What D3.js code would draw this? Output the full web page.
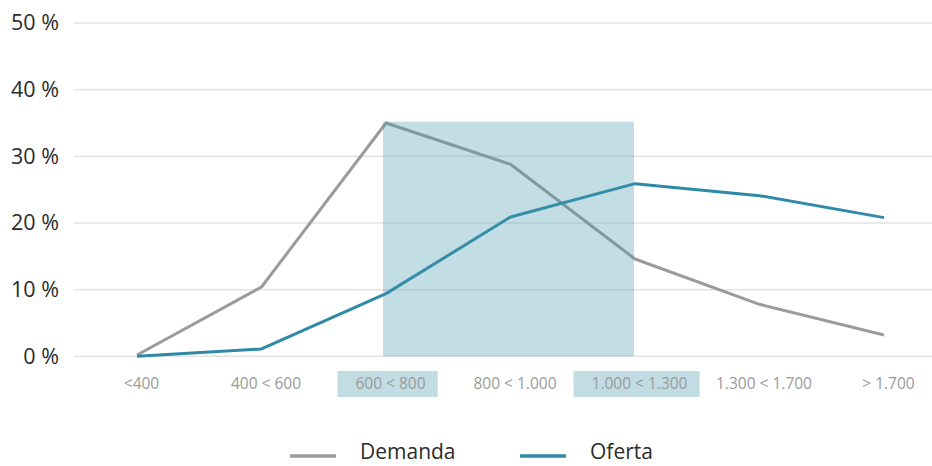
<!DOCTYPE html>
<html>
<head>
<meta charset="utf-8">
<script src="https://cdn.jsdelivr.net/npm/d3@7"></script>
<style>
  html, body { margin: 0; padding: 0; background: #fff; }
  svg { display: block; }
</style>
</head>
<body>
<svg id="chart" width="932" height="466"></svg>
<script>
const categories = ["<400", "400 < 600", "600 < 800", "800 < 1.000", "1.000 < 1.300", "1.300 < 1.700", "> 1.700"];
const demanda = [0.2, 10.4, 35.0, 28.8, 14.6, 7.8, 3.2];
const oferta = [0.0, 1.1, 9.4, 20.9, 25.9, 24.1, 20.8];
const yTicks = [0, 10, 20, 30, 40, 50];
const highlightFrom = "600 < 800";
const highlightTo = "1.000 < 1.300";
const highlightTop = 35.2;
const highlightedLabels = ["600 < 800", "1.000 < 1.300"];
const seriesNames = ["Demanda", "Oferta"];

const svg = d3.select("#chart");
const font = "'Open Sans', 'Noto Sans', sans-serif";

const x = d3.scalePoint().domain(categories).range([137, 884]);
const y = d3.scaleLinear().domain([0, 50]).range([356.3, 23]);

const gridLeft = 74, gridRight = 932;

// gridlines
svg.append("g").selectAll("line").data(yTicks).join("line")
  .attr("x1", gridLeft).attr("x2", gridRight)
  .attr("y1", d => y(d)).attr("y2", d => y(d))
  .attr("stroke", "#e3e3e3").attr("stroke-width", 1.5);

// y axis labels
const yAxis = d3.axisLeft(y).tickValues(yTicks).tickFormat(d => d + " %").tickSize(0).tickPadding(0);
const yg = svg.append("g").attr("transform", "translate(59,0)").call(yAxis);
yg.select(".domain").remove();
yg.selectAll("text").attr("font-family", font).attr("font-size", 21.5).attr("fill", "#2b2b2b");

// x axis label highlight boxes + labels
const xAxis = d3.axisBottom(x).tickSize(0).tickPadding(0);
const xg = svg.append("g").attr("transform", "translate(4,378)").call(xAxis);
xg.select(".domain").remove();
xg.selectAll("text").attr("font-family", font).attr("font-size", 15.5).attr("fill", "#9a9a9a").attr("dy", "0.71em");
xg.selectAll(".tick").each(function(d) {
  if (highlightedLabels.includes(d)) {
    const t = d3.select(this).select("text");
    const bb = t.node().getBBox();
    d3.select(this).insert("rect", "text")
      .attr("x", bb.x - 18).attr("y", -7)
      .attr("width", bb.width + 30).attr("height", 26)
      .attr("fill", "#c2dce4");
  }
});

// lines
const line = d3.line().x((d, i) => x(categories[i])).y(d => y(d));
svg.append("path").datum(demanda).attr("d", line)
  .attr("fill", "none").attr("stroke", "#9b9b9b").attr("stroke-width", 3).attr("stroke-linejoin", "round");
svg.append("path").datum(oferta).attr("d", line)
  .attr("fill", "none").attr("stroke", "#2e8aa7").attr("stroke-width", 3).attr("stroke-linejoin", "round");

// highlight rect (semi-transparent overlay)
svg.append("rect")
  .attr("x", x(highlightFrom) - 3).attr("y", y(highlightTop))
  .attr("width", x(highlightTo) - x(highlightFrom) + 2)
  .attr("height", y(0) - y(highlightTop))
  .attr("fill", "rgb(70,152,173)").attr("fill-opacity", 0.33);

// legend
const legendColors = ["#9b9b9b", "#2e8aa7"];
const legendX = [290, 520];
const lg = svg.append("g");
seriesNames.forEach((name, i) => {
  lg.append("line").attr("x1", legendX[i]).attr("x2", legendX[i] + 46)
    .attr("y1", 456).attr("y2", 456)
    .attr("stroke", legendColors[i]).attr("stroke-width", 3.5);
  lg.append("text").attr("x", legendX[i] + 70).attr("y", 459)
    .attr("font-family", font).attr("font-size", 21).attr("fill", "#2b2b2b")
    .text(name);
});
</script>
</body>
</html>
